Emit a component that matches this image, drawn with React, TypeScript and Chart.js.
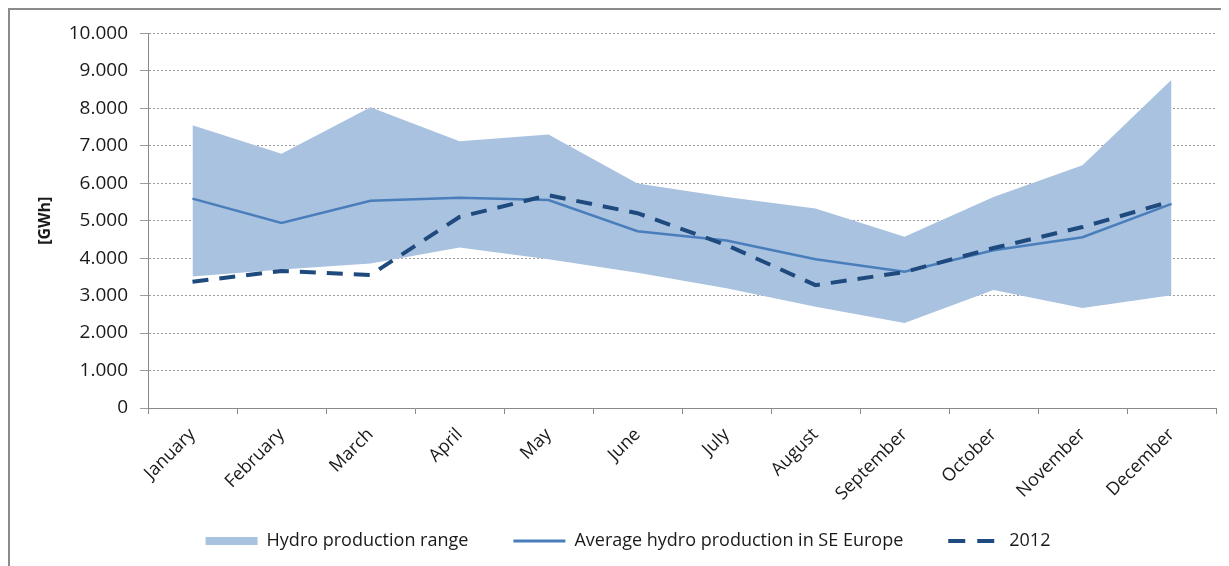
import React, { useEffect, useRef } from 'react';
import { Chart, registerables } from 'chart.js';

Chart.register(...registerables);

const months = [
  'January', 'February', 'March', 'April', 'May', 'June',
  'July', 'August', 'September', 'October', 'November', 'December',
];
const rangeMax = [7550, 6790, 8030, 7120, 7300, 5990, 5630, 5325, 4570, 5635, 6480, 8760];
const rangeMin = [3510, 3700, 3860, 4285, 3970, 3610, 3200, 2700, 2270, 3150, 2670, 3010];
const average = [5590, 4940, 5530, 5610, 5550, 4720, 4470, 3970, 3640, 4210, 4560, 5450];
const year2012 = [3370, 3660, 3550, 5100, 5680, 5200, 4350, 3280, 3630, 4270, 4830, 5520];
const legendLabels = ['Hydro production range', 'Average hydro production in SE Europe', '2012'];
const yAxisTitle = '[GWh]';
const yMin = 0;
const yMax = 10000;
const yStep = 1000;

const FONT = "'Open Sans', 'DejaVu Sans', sans-serif";
const TEXT = '#1a1a1a';
const BAND = '#a8c2e0';
const AVG = '#4a7ebb';
const NAVY = '#1f4a7e';
const AXIS = '#8a8a8a';
const GRID = '#9c9c9c';

function formatThousands(v: number): string {
  return Math.round(v).toString().replace(/\B(?=(\d{3})+(?!\d))/g, '.');
}

export default function App() {
  const ref = useRef<HTMLCanvasElement | null>(null);

  useEffect(() => {
    document.documentElement.style.overflow = 'hidden';
    document.body.style.overflow = 'hidden';
    if (!ref.current) return;
    const chart = new Chart(ref.current, {
      type: 'line',
      data: {
        labels: months,
        datasets: [
          {
            label: legendLabels[2],
            data: year2012,
            borderColor: NAVY,
            borderWidth: 4,
            borderDash: [16, 11],
            pointRadius: 0,
            fill: false,
            tension: 0,
          },
          {
            label: legendLabels[1],
            data: average,
            borderColor: AVG,
            borderWidth: 2.5,
            pointRadius: 0,
            fill: false,
            tension: 0,
          },
          {
            label: legendLabels[0],
            data: rangeMax,
            borderColor: 'rgba(0,0,0,0)',
            borderWidth: 0,
            backgroundColor: BAND,
            pointRadius: 0,
            fill: '+1',
            tension: 0,
          },
          {
            label: 'min',
            data: rangeMin,
            borderColor: 'rgba(0,0,0,0)',
            borderWidth: 0,
            pointRadius: 0,
            fill: false,
            tension: 0,
          },
        ],
      },
      options: {
        animation: false,
        responsive: true,
        maintainAspectRatio: false,
        layout: { padding: { left: 30, right: 13, top: 23, bottom: 6 } },
        plugins: {
          tooltip: { enabled: false },
          legend: {
            position: 'bottom',
            labels: {
              usePointStyle: true,
              pointStyleWidth: 52,
              boxHeight: 8,
              padding: 45,
              color: TEXT,
              font: { family: FONT, size: 18 },
              generateLabels: () => [
                {
                  text: legendLabels[0],
                  fillStyle: BAND,
                  strokeStyle: BAND,
                  lineWidth: 0,
                  pointStyle: 'rect',
                  hidden: false,
                  datasetIndex: 2,
                  fontColor: TEXT,
                },
                {
                  text: legendLabels[1],
                  fillStyle: AVG,
                  strokeStyle: AVG,
                  lineWidth: 3,
                  pointStyle: 'line',
                  hidden: false,
                  datasetIndex: 1,
                  fontColor: TEXT,
                },
                {
                  text: legendLabels[2],
                  fillStyle: NAVY,
                  strokeStyle: NAVY,
                  lineWidth: 4,
                  lineDash: [17, 12],
                  pointStyle: 'line',
                  hidden: false,
                  datasetIndex: 0,
                  fontColor: TEXT,
                },
              ],
            },
          },
        },
        scales: {
          x: {
            offset: true,
            grid: {
              display: true,
              drawOnChartArea: false,
              drawTicks: true,
              tickLength: 6,
              offset: true,
              tickColor: AXIS,
            },
            border: { display: true, color: AXIS, width: 1 },
            ticks: {
              autoSkip: false,
              maxRotation: 45,
              minRotation: 45,
              padding: 10,
              color: TEXT,
              font: { family: FONT, size: 18 },
            },
            afterFit: (s: any) => {
              s.height = 79;
            },
            afterUpdate: (s: any) => {
              // let the rotated month labels extend below the axis box
              s._computeLabelArea = () => undefined;
            },
          },
          y: {
            min: yMin,
            max: yMax,
            ticks: {
              stepSize: yStep,
              padding: 12,
              color: TEXT,
              font: { family: FONT, size: 19 },
              callback: (v: any) => formatThousands(Number(v)),
            },
            grid: {
              color: GRID,
              lineWidth: 1,
              tickLength: 8,
              tickColor: GRID,
            },
            border: { display: true, color: AXIS, width: 1, dash: [2, 2] },
            title: {
              display: true,
              text: yAxisTitle,
              color: TEXT,
              font: { family: FONT, size: 16, weight: 'bold' },
              padding: { top: -4, bottom: 0 },
            },
            afterFit: (s: any) => {
              s.width = 108;
            },
          },
        },
      },
    } as any);
    return () => chart.destroy();
  }, []);

  return (
    <div
      style={{
        boxSizing: 'border-box',
        width: 1221,
        height: 558,
        borderTop: '2px solid #8a8a8a',
        borderLeft: '2px solid #8a8a8a',
        background: '#fff',
      }}
    >
      <div style={{ position: 'relative', width: 1219, height: 556 }}>
        <canvas ref={ref} />
      </div>
    </div>
  );
}
